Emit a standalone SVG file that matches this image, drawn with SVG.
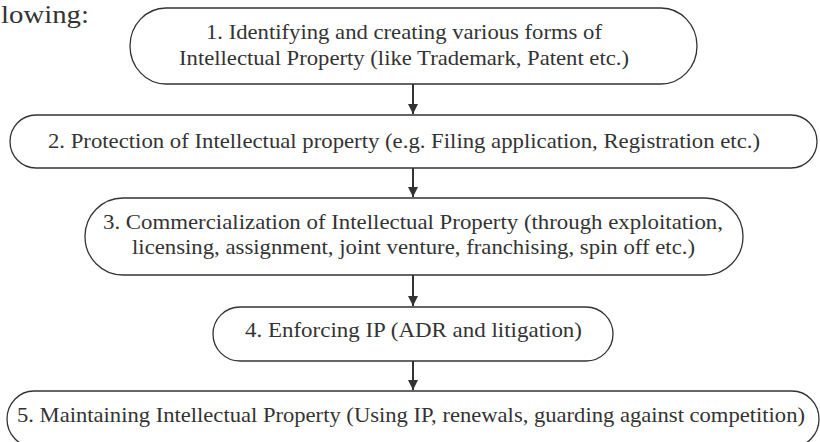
<svg xmlns="http://www.w3.org/2000/svg" width="820" height="442" viewBox="0 0 820 442">
<style>
.box{fill:#fff;stroke:#333;stroke-width:1.3}
.c{stroke:#333;stroke-width:2;fill:none}
</style>
<defs>
<marker id="ah" viewBox="0 0 10 10" refX="10" refY="5" markerWidth="5" markerHeight="5" orient="auto" markerUnits="strokeWidth">
<path d="M0,0 L10,5 L0,10 z" fill="#333"/>
</marker>
</defs>
<rect width="820" height="442" fill="#fff"/>
<text x="1" y="23" textLength="88" lengthAdjust="spacingAndGlyphs" font-family="Liberation Serif, Times New Roman, serif" font-size="25" fill="#333">lowing:</text>
<g id="connectors">
<line class="c" x1="413" y1="84" x2="413" y2="114" marker-end="url(#ah)"/>
<line class="c" x1="413" y1="168" x2="413" y2="197" marker-end="url(#ah)"/>
<line class="c" x1="413" y1="275" x2="413" y2="306" marker-end="url(#ah)"/>
<line class="c" x1="413" y1="361" x2="413" y2="390" marker-end="url(#ah)"/>
</g>
<g font-family="Liberation Serif, Times New Roman, serif" font-size="22" fill="#333">
<g id="n1">
<rect class="box" x="130" y="8" width="567" height="76" rx="36" ry="38"/>
<text x="206" y="39" textLength="396" lengthAdjust="spacingAndGlyphs">1. Identifying and creating various forms of</text>
<text x="179" y="65" textLength="450" lengthAdjust="spacingAndGlyphs">Intellectual Property (like Trademark, Patent etc.)</text>
</g>
<g id="n2">
<rect class="box" x="10" y="115" width="807" height="53" rx="26" ry="26.5"/>
<text x="48" y="148" textLength="712" lengthAdjust="spacingAndGlyphs">2. Protection of Intellectual property (e.g. Filing application, Registration etc.)</text>
</g>
<g id="n3">
<rect class="box" x="85" y="198" width="658" height="77" rx="38" ry="38.5"/>
<text x="103" y="229" textLength="620" lengthAdjust="spacingAndGlyphs">3. Commercialization of Intellectual Property (through exploitation,</text>
<text x="132" y="254" textLength="563" lengthAdjust="spacingAndGlyphs">licensing, assignment, joint venture, franchising, spin off etc.)</text>
</g>
<g id="n4">
<rect class="box" x="213" y="307" width="400" height="54" rx="27" ry="27"/>
<text x="245" y="337" textLength="337" lengthAdjust="spacingAndGlyphs">4. Enforcing IP (ADR and litigation)</text>
</g>
<g id="n5">
<rect class="box" x="7" y="391" width="812" height="56" rx="27" ry="28"/>
<text x="17" y="422" textLength="788" lengthAdjust="spacingAndGlyphs">5. Maintaining Intellectual Property (Using IP, renewals, guarding against competition)</text>
</g>
</g>
</svg>
